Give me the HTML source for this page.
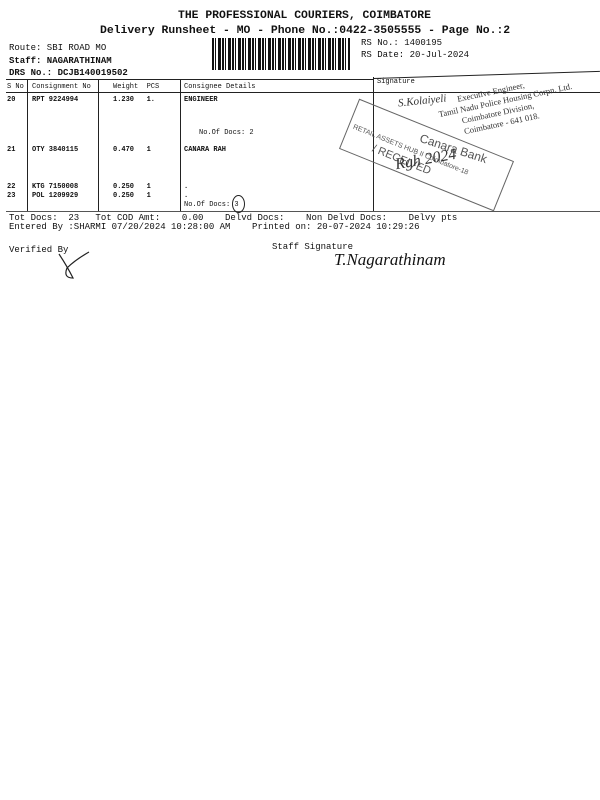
<!DOCTYPE html>
<html><head><meta charset="utf-8"><style>
body{margin:0;width:600px;height:800px;background:#fff;position:relative;overflow:hidden;font-family:"Liberation Mono",monospace;color:#111}
.t{position:absolute;white-space:pre;line-height:1}
.s9{font-size:9px}.s7{font-size:7px}.b{font-weight:bold}
.l{position:absolute;background:#222}
</style></head><body>
<div class="t b" style="left:178px;top:11px;font-size:11.4px">THE PROFESSIONAL COURIERS, COIMBATORE</div>
<div class="t b" style="left:100px;top:26px;font-size:11.4px">Delivery Runsheet - MO - Phone No.:0422-3505555 - Page No.:2</div>
<div class="t s9" style="left:9px;top:44px">Route: SBI ROAD MO</div>
<div class="t s9 b" style="left:9px;top:57px">Staff: NAGARATHINAM</div>
<div class="t s9 b" style="left:9px;top:69px">DRS No.: DCJB140019502</div>
<div style="position:absolute;left:212px;top:38px;width:138px;height:32px;background:repeating-linear-gradient(90deg,#111 0 2px,#fff 2px 3px,#111 3px 4px,#fff 4px 6px,#111 6px 9px,#fff 9px 10px)"></div>
<div class="t s9" style="left:361px;top:39px">RS No.: 1400195</div>
<div class="t s9" style="left:361px;top:51px">RS Date: 20-Jul-2024</div>
<div class="l" style="left:6px;top:79px;width:368px;height:1px"></div>
<div class="l" style="left:373px;top:78px;width:227px;height:1px;transform:rotate(-1.8deg);transform-origin:left"></div>
<div class="l" style="left:6px;top:92px;width:594px;height:1px"></div>
<div class="l" style="left:6px;top:211px;width:594px;height:1px;background:#555"></div>
<div class="l" style="left:27px;top:79px;width:1px;height:132px"></div>
<div class="l" style="left:98px;top:79px;width:1px;height:132px"></div>
<div class="l" style="left:180px;top:79px;width:1px;height:132px"></div>
<div class="l" style="left:373px;top:77px;width:1px;height:134px"></div>
<div class="t s7" style="left:7px;top:84px">S No</div>
<div class="t s7" style="left:32px;top:84px">Consignment No</div>
<div class="t s7" style="left:113px;top:84px">Weight  PCS</div>
<div class="t s7" style="left:184px;top:84px">Consignee Details</div>
<div class="t s7" style="left:377px;top:79px">Signature</div>
<div class="t s7 b" style="left:7px;top:97px">20</div>
<div class="t s7 b" style="left:32px;top:97px">RPT 9224994</div>
<div class="t s7 b" style="left:113px;top:97px">1.230   1.</div>
<div class="t s7 b" style="left:184px;top:97px">ENGINEER</div>
<div class="t s7" style="left:199px;top:130px">No.Of Docs: 2</div>
<div class="t s7 b" style="left:7px;top:147px">21</div>
<div class="t s7 b" style="left:32px;top:147px">OTY 3840115</div>
<div class="t s7 b" style="left:113px;top:147px">0.470   1</div>
<div class="t s7 b" style="left:184px;top:147px">CANARA RAH</div>
<div class="t s7 b" style="left:7px;top:184px">22</div>
<div class="t s7 b" style="left:32px;top:184px">KTG 7150008</div>
<div class="t s7 b" style="left:113px;top:184px">0.250   1</div>
<div class="t s7 b" style="left:184px;top:184px">.</div>
<div class="t s7 b" style="left:7px;top:193px">23</div>
<div class="t s7 b" style="left:32px;top:193px">POL 1209929</div>
<div class="t s7 b" style="left:113px;top:193px">0.250   1</div>
<div class="t s7 b" style="left:184px;top:193px">.</div>
<div class="t s7" style="left:184px;top:202px">No.Of Docs: 3</div>
<div style="position:absolute;left:232px;top:195px;width:11px;height:16px;border:1px solid #222;border-radius:50%"></div>
<div class="t s9" style="left:9px;top:214px">Tot Docs:  23   Tot COD Amt:    0.00    Delvd Docs:    Non Delvd Docs:    Delvy pts</div>
<div class="t s9" style="left:9px;top:223px">Entered By :SHARMI 07/20/2024 10:28:00 AM    Printed on: 20-07-2024 10:29:26</div>
<div class="t s9" style="left:9px;top:246px">Verified By</div>
<div class="t s9" style="left:272px;top:243px">Staff Signature</div>
<div class="t" style="left:334px;top:251px;font-family:'Liberation Serif',serif;font-style:italic;font-size:17px">T.Nagarathinam</div>
<svg style="position:absolute;left:55px;top:250px" width="40" height="32"><path d="M4 4 Q12 16 18 28 Q8 28 12 18 Q20 10 34 2" fill="none" stroke="#222" stroke-width="1.2"/></svg>
<div style="position:absolute;left:343px;top:128px;width:165px;height:52px;border:1.5px solid #666;transform:rotate(22deg);color:#555;font-family:'Liberation Sans',sans-serif">
<div class="t" style="left:70px;top:4px;font-size:12px;transform:rotate(-4deg)">Canara Bank</div>
<div class="t" style="left:4px;top:24px;font-size:7px">RETAIL ASSETS HUB II Coimbatore-18</div>
<div class="t" style="left:30px;top:35px;font-size:11px">/ RECEIVED</div>
</div>
<div class="t" style="left:398px;top:96px;font-family:'Liberation Serif',serif;font-style:italic;font-size:11px;color:#333;transform:rotate(-6deg)">S.Kolaiyeli</div>
<div class="t" style="left:395px;top:152px;font-family:'Liberation Serif',serif;font-style:italic;font-size:16px;color:#333;transform:rotate(-10deg)">Rgh 2024</div>
<div style="position:absolute;left:440px;top:98px;transform:rotate(-12deg);transform-origin:left;font-family:'Liberation Serif',serif;font-size:8.5px;color:#333;line-height:11px;white-space:pre">          Executive Engineer,
Tamil Nadu Police Housing Corpn. Ltd.
          Coimbatore Division,
          Coimbatore - 641 018.</div>
</body></html>
